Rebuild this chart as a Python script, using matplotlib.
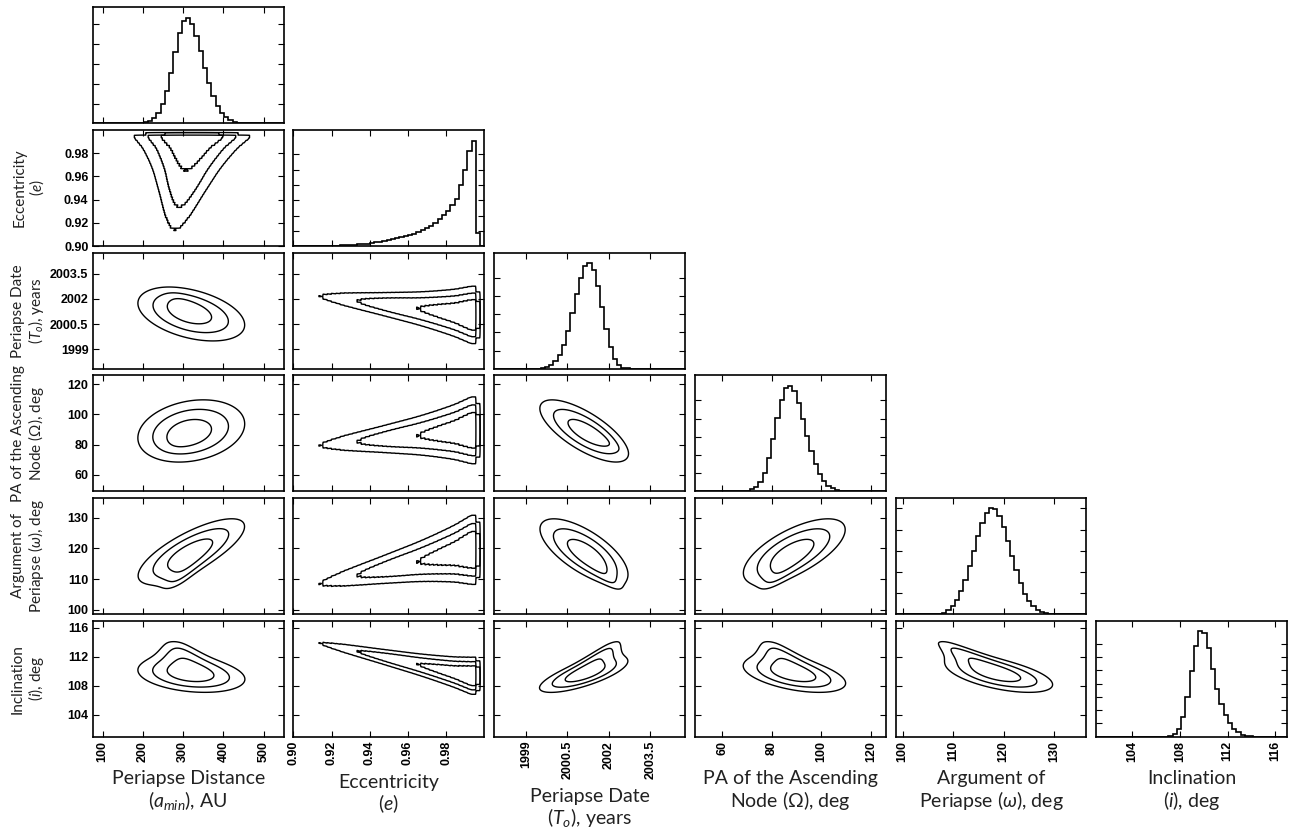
import numpy as np
import matplotlib
matplotlib.use("Agg")
import matplotlib.pyplot as plt

plt.rcParams['font.family'] = ['Liberation Sans', 'DejaVu Sans']
plt.rcParams['mathtext.fontset'] = 'custom'
plt.rcParams['mathtext.rm'] = 'Lato'
plt.rcParams['mathtext.it'] = 'Lato:italic'

# axis set-up for the six orbital elements
xlabels = ["Periapse Distance\n($a_{min}$), AU",
           "Eccentricity\n($e$)",
           "Periapse Date\n($T_o$), years",
           "PA of the Ascending\nNode ($\\mathit{\\Omega}$), deg",
           "Argument of\nPeriapse ($\\omega$), deg",
           "Inclination\n($i$), deg"]
ylabels = [None,
           "Eccentricity\n($e$)",
           "Periapse Date\n($T_o$), years",
           "PA of the Ascending\nNode ($\\mathit{\\Omega}$), deg",
           "Argument of\nPeriapse ($\\omega$), deg",
           "Inclination\n($i$), deg"]
limits = [(75, 550), (0.90, 1.00), (1997.85, 2004.75), (49, 126), (98.6, 136.4), (101, 117)]
ticks = [[100, 200, 300, 400, 500],
         [0.90, 0.92, 0.94, 0.96, 0.98],
         [1999, 2000.5, 2002, 2003.5],
         [60, 80, 100, 120],
         [100, 110, 120, 130],
         [104, 108, 112, 116]]
tick_labels = [["100", "200", "300", "400", "500"],
               ["0.90", "0.92", "0.94", "0.96", "0.98"],
               ["1999", "2000.5", "2002", "2003.5"],
               ["60", "80", "100", "120"],
               ["100", "110", "120", "130"],
               ["104", "108", "112", "116"]]

# eccentricity histogram, relative heights of 45 bins between 0.90 and 1.00
ecc_hist = [0.0, 0.0, 0.0, 0.0, 0.0, 0.0005, 0.001, 0.0015, 0.002, 0.003,
            0.004, 0.006, 0.008, 0.010, 0.013, 0.016, 0.020, 0.024, 0.029, 0.035,
            0.041, 0.049, 0.057, 0.066, 0.075, 0.085, 0.095, 0.105, 0.118, 0.132,
            0.150, 0.170, 0.195, 0.220, 0.255, 0.290, 0.330, 0.385, 0.450, 0.580,
            0.720, 0.900, 1.000, 0.125, 0.0]
ecc_peak = 0.993
ecc_scale = 0.03      # drift unit in e below the peak
taper = 0.42          # how fast the other spreads shrink toward low e

# other elements (a_min, T0, Omega, omega, i): centre at the e peak,
# spread there, and shift per drift unit toward low e
centre = [322.0, 2001.05, 89.5, 119.5, 109.4]
spread = [42.0, 0.50, 6.5, 3.3, 0.75]
drift = [-16.0, 0.42, -3.8, -4.2, 1.7]
corr = [[1.00, -0.40, 0.22, 0.76, -0.25],
        [-0.40, 1.00, -0.72, -0.68, 0.74],
        [0.22, -0.72, 1.00, 0.66, -0.48],
        [0.76, -0.68, 0.66, 1.00, -0.55],
        [-0.25, 0.74, -0.48, -0.55, 1.00]]

ecc_edges = np.linspace(0.90, 1.00, len(ecc_hist) + 1)
ecc_mid = 0.5 * (ecc_edges[1:] + ecc_edges[:-1])
ecc_w = np.array(ecc_hist)
cen = np.array(centre)
spr = np.array(spread)
dft = np.array(drift)

# nudge the correlation matrix to the nearest valid one if needed
rho = np.array(corr)
ev, V = np.linalg.eigh(rho)
rho = V @ np.diag(np.clip(ev, 0.03, None)) @ V.T
dd = np.sqrt(np.diag(rho))
rho = rho / np.outer(dd, dd)


def conditional(e):
    d = np.clip((ecc_peak - np.asarray(e)) / ecc_scale, 0, None)
    h = np.exp(-taper * d)
    return d, h


def ecc_density(e):
    idx = np.clip(np.searchsorted(ecc_edges, e, side="right") - 1, 0, len(ecc_hist) - 1)
    return ecc_w[idx]


def norm1(x, m, s):
    return np.exp(-0.5 * ((x - m) / s) ** 2) / (s * np.sqrt(2 * np.pi))


def marginal(k, x):
    out = np.zeros_like(x, dtype=float)
    for w, ec in zip(ecc_w, ecc_mid):
        if w <= 0:
            continue
        d, h = conditional(ec)
        out += w * norm1(x, cen[k] + dft[k] * d, spr[k] * h)
    return out


def pair_density(ka, kb, X, Y):
    out = np.zeros_like(X)
    r = rho[ka, kb]
    for w, ec in zip(ecc_w, ecc_mid):
        if w <= 0:
            continue
        d, h = conditional(ec)
        sa, sb = spr[ka] * h, spr[kb] * h
        u = (X - cen[ka] - dft[ka] * d) / sa
        v = (Y - cen[kb] - dft[kb] * d) / sb
        z = (u * u - 2 * r * u * v + v * v) / (1 - r * r)
        out += w * np.exp(-0.5 * z) / (2 * np.pi * sa * sb * np.sqrt(1 - r * r))
    return out


def ecc_pair_density(k, E, Y):
    d, h = conditional(E)
    return ecc_density(E) * norm1(Y, cen[k] + dft[k] * d, spr[k] * h)


def hpd_levels(z, fracs=(0.997, 0.954, 0.683)):
    flat = np.sort(z.ravel())[::-1]
    cs = np.cumsum(flat)
    cs /= cs[-1]
    return sorted(flat[np.searchsorted(cs, f)] for f in fracs)


xlabel_font = dict(family="Lato", weight="normal", size=14, color="#222222")
ylabel_font = dict(family="Lato", weight="normal", size=11, color="#222222")
tick_font = dict(family="Liberation Sans", weight="bold", size=9)
hist_steps = [5.3, 6.9, 5.8, 5.8, 5.0, 7.95]

fig, axes = plt.subplots(6, 6, figsize=(12.92, 8.33), dpi=100)
fig.subplots_adjust(left=0.0717, right=0.9963, top=0.9912, bottom=0.1156,
                    wspace=0.051, hspace=0.056)

for r in range(6):
    for c in range(6):
        ax = axes[r, c]
        if c > r:
            ax.axis("off")
            continue
        for sp in ax.spines.values():
            sp.set_linewidth(1.2)
        ax.set_xlim(limits[c])
        ax.set_xticks(ticks[c])
        ax.tick_params(direction="in", length=4, width=0.8, top=True, right=True, pad=3)

        if r == c:
            edges = np.linspace(limits[c][0], limits[c][1], 46)
            if c == 1:
                edges = ecc_edges
                vals = ecc_w
            else:
                mids = 0.5 * (edges[1:] + edges[:-1])
                vals = marginal(c if c == 0 else c - 1, mids)
            vals = vals / vals.max()
            ax.stairs(vals, edges, color="k", linewidth=1.2)
            ax.set_ylim(0, 1.1)
            step = 1.0 / hist_steps[c]
            ax.set_yticks(np.arange(1, int(hist_steps[c]) + 1) * step)
            ax.set_yticklabels([])
        else:
            ax.set_ylim(limits[r])
            ax.set_yticks(ticks[r])
            ka = c if c == 0 else c - 1
            kb = r if r == 0 else r - 1
            if c == 1:
                E, Y = np.meshgrid(np.linspace(0.90, 1.00, 501),
                                   np.linspace(limits[r][0], limits[r][1], 300))
                Z = ecc_pair_density(kb, E, Y)
                X = E
            elif r == 1:
                X, E = np.meshgrid(np.linspace(limits[c][0], limits[c][1], 300),
                                   np.linspace(0.90, 1.00, 501))
                Z = ecc_pair_density(ka, E, X)
                Y = E
            else:
                X, Y = np.meshgrid(np.linspace(limits[c][0], limits[c][1], 260),
                                   np.linspace(limits[r][0], limits[r][1], 260))
                Z = pair_density(ka, kb, X, Y)
            ax.contour(X, Y, Z, levels=hpd_levels(Z), colors="k", linewidths=1.0)

        if r == 5:
            ax.set_xticklabels(tick_labels[c], rotation=90, **tick_font)
            ax.set_xlabel(xlabels[c], labelpad=6, linespacing=1.1, **xlabel_font)
        else:
            ax.set_xticklabels([])
        if c == 0 and r > 0:
            ax.set_yticklabels(tick_labels[r], **tick_font)
            ax.set_ylabel(ylabels[r], linespacing=1.05, **ylabel_font)
            ax.yaxis.set_label_coords(-0.245, 0.5)
        elif r != c:
            ax.set_yticklabels([])

fig.savefig("out.png", dpi=100)
